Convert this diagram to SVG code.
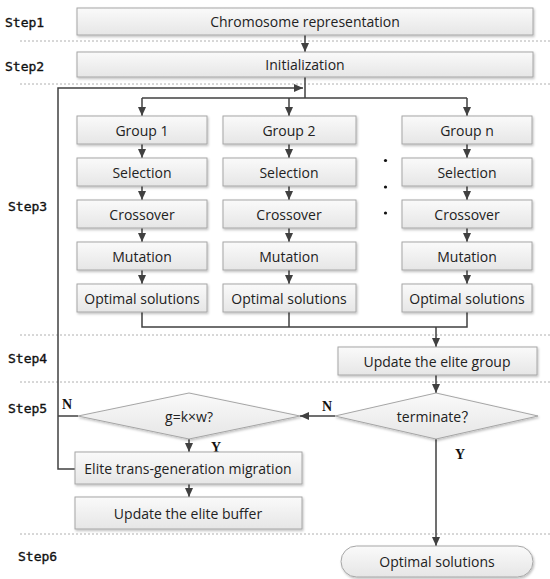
<svg xmlns="http://www.w3.org/2000/svg" width="550" height="579" viewBox="0 0 550 579">
<defs>
<linearGradient id="bg" x1="0" y1="0" x2="0" y2="1">
<stop offset="0" stop-color="#fafafa"/>
<stop offset="1" stop-color="#e6e6e6"/>
</linearGradient>
<marker id="ah" markerWidth="10" markerHeight="10" refX="9" refY="5" orient="auto" markerUnits="userSpaceOnUse">
<path d="M0,1 L9,5 L0,9 Z" fill="#404040"/>
</marker>
<filter id="sh" x="-5%" y="-10%" width="110%" height="130%">
<feDropShadow dx="1" dy="1.5" stdDeviation="0.8" flood-color="#000" flood-opacity="0.25"/>
</filter>
</defs>
<style>
.box{fill:url(#bg);stroke:#a6a6a6;stroke-width:1;filter:url(#sh)}
.t{font-family:"Open Sans","Liberation Sans",Arial,"Noto Sans CJK SC",sans-serif;font-size:14px;fill:#222;text-anchor:middle;dominant-baseline:central}
.step{font-family:"DejaVu Sans Mono","Liberation Mono",monospace;font-size:13px;fill:#111;stroke:#111;stroke-width:0.35;dominant-baseline:central}
.yn{font-family:"Liberation Serif","Times New Roman",serif;font-size:14px;font-weight:bold;fill:#111;text-anchor:middle;dominant-baseline:central}
.dash{stroke:#b0b0b0;stroke-width:1;stroke-dasharray:2,2;fill:none}
.c{stroke:#404040;stroke-width:1.5;fill:none}
.a{stroke:#404040;stroke-width:1.5;fill:none;marker-end:url(#ah)}
</style>
<rect width="550" height="579" fill="#fff"/>

<g id="lanes">
<line class="dash" x1="20" y1="41" x2="550" y2="41"/>
<line class="dash" x1="20" y1="84" x2="550" y2="84"/>
<line class="dash" x1="20" y1="335" x2="550" y2="335"/>
<line class="dash" x1="20" y1="382" x2="550" y2="382"/>
<line class="dash" x1="20" y1="534" x2="550" y2="534"/>
<text class="step" x="5" y="22">Step1</text>
<text class="step" x="5" y="66">Step2</text>
<text class="step" x="8" y="206">Step3</text>
<text class="step" x="8" y="358">Step4</text>
<text class="step" x="8" y="408">Step5</text>
<text class="step" x="18" y="556">Step6</text>
</g>

<g id="connectors">
<line class="a" x1="305" y1="35" x2="305" y2="52"/>
<polyline class="c" points="305,77 305,98"/>
<line class="c" x1="142" y1="98" x2="467" y2="98"/>
<line class="a" x1="142" y1="98" x2="142" y2="116"/>
<line class="a" x1="289" y1="98" x2="289" y2="116"/>
<line class="a" x1="467" y1="98" x2="467" y2="116"/>
<g id="col-arrows">
<line class="a" x1="142" y1="144" x2="142" y2="158"/>
<line class="a" x1="142" y1="186" x2="142" y2="200"/>
<line class="a" x1="142" y1="228" x2="142" y2="242"/>
<line class="a" x1="142" y1="270" x2="142" y2="284"/>
<line class="a" x1="289" y1="144" x2="289" y2="158"/>
<line class="a" x1="289" y1="186" x2="289" y2="200"/>
<line class="a" x1="289" y1="228" x2="289" y2="242"/>
<line class="a" x1="289" y1="270" x2="289" y2="284"/>
<line class="a" x1="467" y1="144" x2="467" y2="158"/>
<line class="a" x1="467" y1="186" x2="467" y2="200"/>
<line class="a" x1="467" y1="228" x2="467" y2="242"/>
<line class="a" x1="467" y1="270" x2="467" y2="284"/>
</g>
<polyline class="c" points="142,312 142,327 467,327 467,312"/>
<line class="c" x1="289" y1="312" x2="289" y2="327"/>
<line class="a" x1="436" y1="327" x2="436" y2="347"/>
<line class="a" x1="436" y1="375" x2="436" y2="393"/>
<line class="a" x1="335" y1="416" x2="300" y2="416"/>
<line class="c" x1="78" y1="416" x2="58" y2="416"/>
<polyline class="a" points="75,469 58,469 58,88 303,88"/>
<line class="a" x1="189" y1="439" x2="189" y2="452"/>
<line class="a" x1="189" y1="484" x2="189" y2="497"/>
<line class="a" x1="436" y1="439" x2="436" y2="546"/>
<text class="yn" x="67" y="404">N</text>
<text class="yn" x="216" y="447">Y</text>
<text class="yn" x="327" y="406">N</text>
<text class="yn" x="460" y="454">Y</text>
</g>

<g id="n-chromosome"><rect class="box" x="77" y="8" width="456" height="27"/><text class="t" x="305" y="21.5">Chromosome representation</text></g>
<g id="n-init"><rect class="box" x="77" y="52" width="456" height="25"/><text class="t" x="305" y="64.5">Initialization</text></g>

<g id="n-g1"><rect class="box" x="77" y="116" width="130" height="28"/><text class="t" x="142" y="130">Group 1</text></g>
<g id="n-s1"><rect class="box" x="77" y="158" width="130" height="28"/><text class="t" x="142" y="172">Selection</text></g>
<g id="n-c1"><rect class="box" x="77" y="200" width="130" height="28"/><text class="t" x="142" y="214">Crossover</text></g>
<g id="n-m1"><rect class="box" x="77" y="242" width="130" height="28"/><text class="t" x="142" y="256">Mutation</text></g>
<g id="n-o1"><rect class="box" x="77" y="284" width="130" height="28"/><text class="t" x="142" y="298">Optimal solutions</text></g>

<g id="n-g2"><rect class="box" x="223" y="116" width="133" height="28"/><text class="t" x="289" y="130">Group 2</text></g>
<g id="n-s2"><rect class="box" x="223" y="158" width="133" height="28"/><text class="t" x="289" y="172">Selection</text></g>
<g id="n-c2"><rect class="box" x="223" y="200" width="133" height="28"/><text class="t" x="289" y="214">Crossover</text></g>
<g id="n-m2"><rect class="box" x="223" y="242" width="133" height="28"/><text class="t" x="289" y="256">Mutation</text></g>
<g id="n-o2"><rect class="box" x="223" y="284" width="133" height="28"/><text class="t" x="289" y="298">Optimal solutions</text></g>

<g id="n-gn"><rect class="box" x="402" y="116" width="130" height="28"/><text class="t" x="467" y="130">Group n</text></g>
<g id="n-sn"><rect class="box" x="402" y="158" width="130" height="28"/><text class="t" x="467" y="172">Selection</text></g>
<g id="n-cn"><rect class="box" x="402" y="200" width="130" height="28"/><text class="t" x="467" y="214">Crossover</text></g>
<g id="n-mn"><rect class="box" x="402" y="242" width="130" height="28"/><text class="t" x="467" y="256">Mutation</text></g>
<g id="n-on"><rect class="box" x="402" y="284" width="130" height="28"/><text class="t" x="467" y="298">Optimal solutions</text></g>

<g id="dots" fill="#111">
<circle cx="385.5" cy="160.5" r="1.6"/>
<circle cx="385.5" cy="187" r="1.6"/>
<circle cx="385.5" cy="213" r="1.6"/>
</g>

<g id="n-update-group"><rect class="box" x="338" y="347" width="199" height="28"/><text class="t" x="437" y="361">Update the elite group</text></g>
<g id="n-terminate"><polygon class="box" points="436,393 538,416 436,439 335,416"/><text class="t" x="436" y="416">terminate？</text></g>
<g id="n-gkw"><polygon class="box" points="189,393 300,416 189,439 78,416"/><text class="t" x="189" y="416">g=k×w?</text></g>
<g id="n-elite"><rect class="box" x="75" y="452" width="227" height="32"/><text class="t" x="188" y="468">Elite trans-generation migration</text></g>
<g id="n-buffer"><rect class="box" x="75" y="497" width="227" height="32"/><text class="t" x="188" y="513">Update the elite buffer</text></g>
<g id="n-optimal"><rect class="box" x="341" y="546" width="192" height="31" rx="15.5"/><text class="t" x="437" y="561.5">Optimal solutions</text></g>
</svg>
